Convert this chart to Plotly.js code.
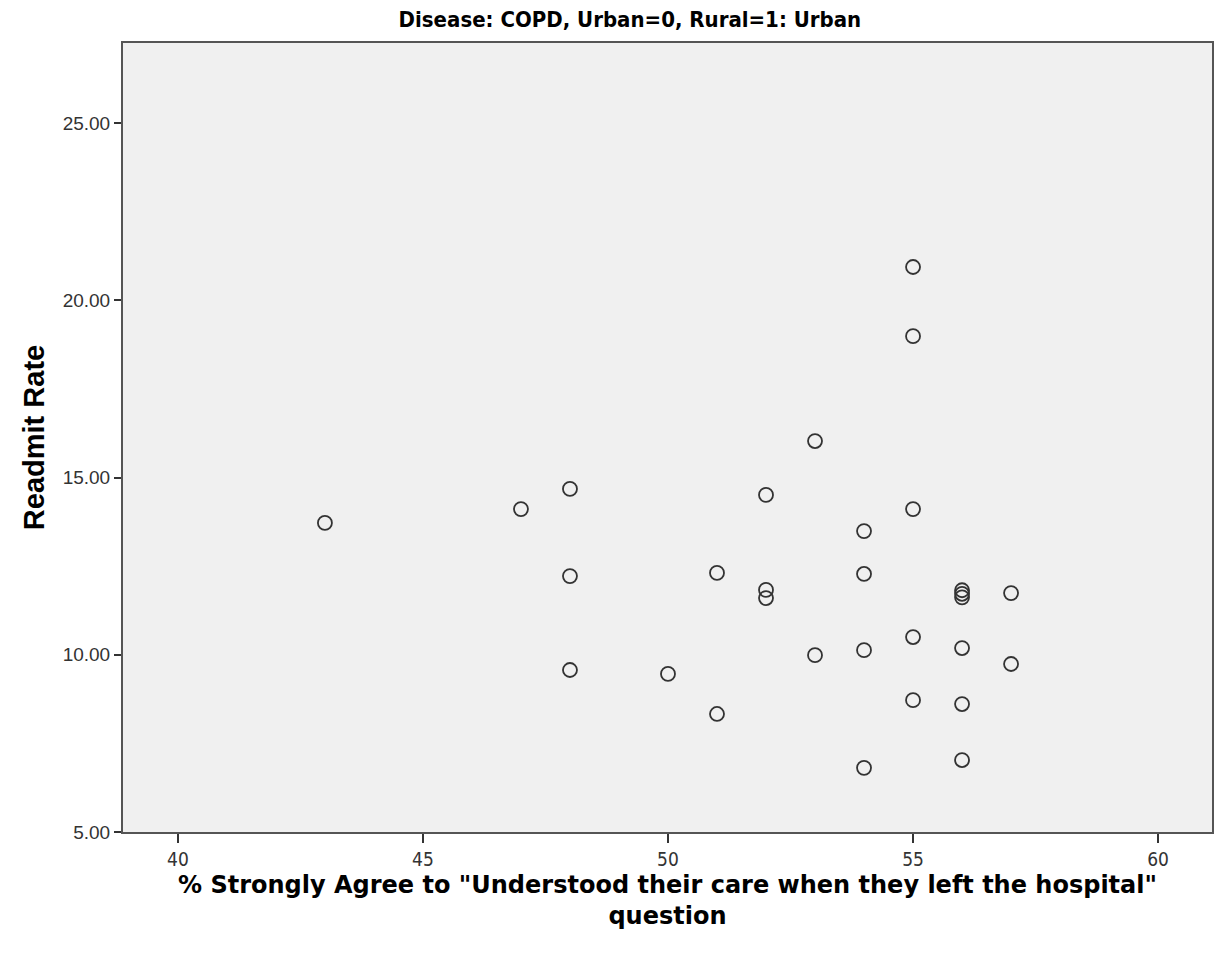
<!DOCTYPE html>
<html>
<head>
<meta charset="utf-8">
<script src="https://cdn.plot.ly/plotly-3.0.1.min.js"></script>
<style>html,body{margin:0;padding:0;background:#fff;}#chart{width:1216px;height:955px;}</style>
</head>
<body>
<div id="chart"></div>
<script>
// % Strongly Agree to "Understood their care..." (x) and Readmit Rate (y)
const pctStronglyAgree = [43, 47, 48, 48, 48, 50, 51, 51, 52, 52, 52, 53, 53, 54, 54, 54, 54, 55, 55, 55, 55, 55, 56, 56, 56, 56, 56, 56, 57, 57];
const readmitRate      = [13.72, 14.11, 14.68, 12.22, 9.57, 9.46, 12.31, 8.33, 14.51, 11.83, 11.60, 16.03, 9.99, 13.49, 12.28, 10.13, 6.81, 20.94, 18.99, 14.11, 10.50, 8.72, 11.82, 11.72, 11.62, 10.19, 8.61, 7.03, 11.74, 9.74];
const xTickVals = [40, 45, 50, 55, 60];
const yTickVals = [5, 10, 15, 20, 25];

const trace = {
  x: pctStronglyAgree,
  y: readmitRate,
  type: 'scatter',
  mode: 'markers',
  marker: {symbol: 'circle-open', size: 14, color: '#333333', line: {width: 1.8, color: '#333333'}},
  hoverinfo: 'x+y'
};

const layout = {
  width: 1216, height: 955,
  margin: {l: 123, r: 4, t: 43, b: 123},
  paper_bgcolor: '#ffffff',
  plot_bgcolor: '#f0f0f0',
  showlegend: false,
  title: {
    text: '<b>Disease: COPD, Urban=0, Rural=1: Urban</b>',
    font: {family: 'DejaVu Sans Condensed, Liberation Sans Narrow, Liberation Sans, Arial, sans-serif', size: 22, color: '#000'},
    x: 0.518, xanchor: 'center', xref: 'container',
    y: 0.98, yanchor: 'middle', yref: 'container'
  },
  xaxis: {
    range: [38.88, 61.1],
    tickvals: xTickVals,
    ticktext: xTickVals.map(String),
    ticks: 'outside', ticklen: 9, tickwidth: 2, tickcolor: '#333',
    tickfont: {family: 'DejaVu Sans Condensed, Liberation Sans Narrow, Liberation Sans, Arial, sans-serif', size: 19, color: '#333'},
    showgrid: false, zeroline: false,
    showline: true, linecolor: '#555', linewidth: 2, mirror: true,
    title: {
      text: '<b>% Strongly Agree to "Understood their care when they left the hospital"<br>question</b>',
      font: {family: 'DejaVu Sans, Verdana, sans-serif', size: 24, color: '#000'},
      standoff: 7
    }
  },
  yaxis: {
    range: [5, 27.26],
    tickvals: yTickVals,
    ticktext: yTickVals.map(v => v.toFixed(2)),
    ticks: 'outside', ticklen: 7, tickwidth: 2, tickcolor: '#333',
    tickfont: {family: 'Liberation Sans, Arial, sans-serif', size: 19, color: '#333'},
    showgrid: false, zeroline: false,
    showline: true, linecolor: '#555', linewidth: 2, mirror: true,
    title: {
      text: '<b>Readmit Rate</b>',
      font: {family: 'Liberation Sans, Arial, sans-serif', size: 29, color: '#000'},
      standoff: 10
    }
  }
};

Plotly.newPlot('chart', [trace], layout, {displayModeBar: false, staticPlot: true});
</script>
</body>
</html>
